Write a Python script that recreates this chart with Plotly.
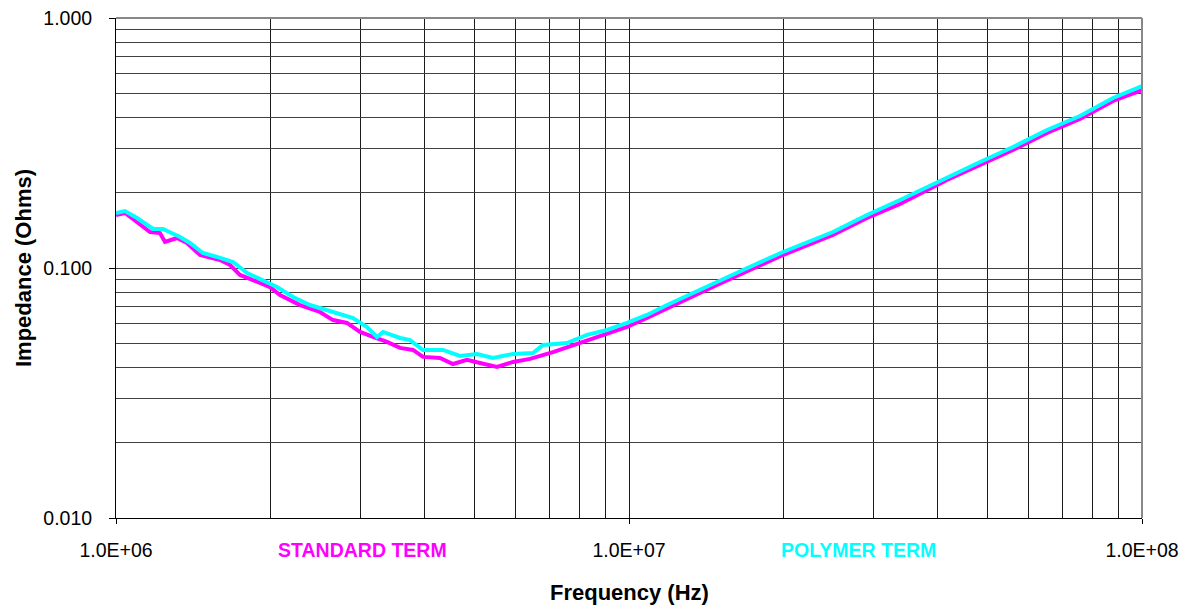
import plotly.graph_objects as go

# Frequency (Hz) and impedance (Ohms)
std_freq = [1.000e6, 1.041e6, 1.079e6, 1.165e6, 1.218e6, 1.246e6, 1.315e6, 1.375e6, 1.458e6,
            1.525e6, 1.595e6, 1.668e6, 1.745e6, 1.909e6, 1.996e6, 2.088e6, 2.284e6, 2.498e6,
            2.649e6, 2.820e6, 2.990e6, 3.170e6, 3.375e6, 3.578e6, 3.793e6, 3.967e6, 4.281e6,
            4.538e6, 4.833e6, 5.123e6, 5.530e6, 5.942e6, 6.412e6, 7.109e6, 8.024e6, 8.780e6,
            9.911e6, 1.084e7, 1.186e7, 1.274e7, 1.484e7, 1.668e7, 1.996e7, 2.498e7, 2.911e7,
            3.375e7, 4.168e7, 4.833e7, 5.605e7, 6.529e7, 7.569e7, 8.780e7, 1.000e8]
std_imp = [0.1629, 0.1660, 0.1570, 0.1393, 0.1380, 0.1271, 0.1318, 0.1259, 0.1127,
           0.1096, 0.1076, 0.1028, 0.0938, 0.0871, 0.0839, 0.0780, 0.0711, 0.0667,
           0.0619, 0.0603, 0.0555, 0.0530, 0.0506, 0.0479, 0.0470, 0.0441, 0.0437,
           0.0413, 0.0429, 0.0417, 0.0402, 0.0421, 0.0433, 0.0461, 0.0501, 0.0530,
           0.0581, 0.0631, 0.0692, 0.0738, 0.0855, 0.0955, 0.1127, 0.1355, 0.1585,
           0.1803, 0.2249, 0.2582, 0.2965, 0.3467, 0.3945, 0.4656, 0.5152]

poly_freq = [1.000e6, 1.041e6, 1.099e6, 1.181e6, 1.235e6, 1.333e6, 1.394e6, 1.477e6, 1.574e6,
             1.691e6, 1.801e6, 1.935e6, 2.060e6, 2.213e6, 2.388e6, 2.649e6, 2.897e6, 3.085e6,
             3.227e6, 3.315e6, 3.578e6, 3.742e6, 3.967e6, 4.339e6, 4.683e6, 5.055e6, 5.431e6,
             5.942e6, 6.499e6, 6.797e6, 7.569e6, 8.280e6, 9.060e6, 9.911e6, 1.084e7, 1.186e7,
             1.274e7, 1.484e7, 1.668e7, 1.996e7, 2.498e7, 2.911e7, 3.375e7, 4.168e7, 4.833e7,
             5.605e7, 6.529e7, 7.569e7, 8.780e7, 1.000e8]
poly_imp = [0.1660, 0.1690, 0.1585, 0.1432, 0.1432, 0.1330, 0.1259, 0.1148, 0.1107,
            0.1057, 0.0955, 0.0895, 0.0839, 0.0766, 0.0711, 0.0667, 0.0631, 0.0581,
            0.0530, 0.0555, 0.0525, 0.0515, 0.0470, 0.0470, 0.0445, 0.0453, 0.0437,
            0.0453, 0.0457, 0.0492, 0.0501, 0.0540, 0.0565, 0.0603, 0.0649, 0.0711,
            0.0759, 0.0879, 0.0982, 0.1159, 0.1393, 0.1629, 0.1871, 0.2312, 0.2655,
            0.3048, 0.3565, 0.4055, 0.4786, 0.5346]

x_major = [1e6, 1e7, 1e8]
x_labels = ["1.0E+06", "1.0E+07", "1.0E+08"]
y_major = [0.01, 0.1, 1.0]
y_labels = ["0.010", "0.100", "1.000"]
x_minor = [m * d for d in (1e6, 1e7) for m in range(2, 10)]
y_minor = [m * d for d in (0.01, 0.1) for m in range(2, 10)]

FONT = "Liberation Sans, Arial, sans-serif"

fig = go.Figure()
fig.add_trace(go.Scatter(x=std_freq, y=std_imp, mode="lines", name="STANDARD TERM",
                         line=dict(color="#FF00FF", width=4)))
fig.add_trace(go.Scatter(x=poly_freq, y=poly_imp, mode="lines", name="POLYMER TERM",
                         line=dict(color="#00FFFF", width=4)))

# the page body adds an 8px offset, so the figure is 8px smaller on each side
fig.update_layout(
    width=1183, height=599,
    margin=dict(l=108, r=49, t=10, b=89, autoexpand=False),
    paper_bgcolor="white", plot_bgcolor="white",
    showlegend=False,
    font=dict(family=FONT, color="black", size=19),
    xaxis=dict(type="log", range=[6, 8], tickmode="array", tickvals=x_major, ticktext=x_labels,
               automargin=False, ticklabeloverflow="allow",
               showgrid=True, gridcolor="#1a1a1a", gridwidth=1,
               showline=True, linecolor="black", linewidth=1,
               ticks="outside", ticklen=5, tickcolor="black", ticklabelstandoff=10,
               tickfont=dict(size=19.5),
               minor=dict(tickmode="array", tickvals=x_minor, showgrid=True,
                          gridcolor="#1a1a1a", gridwidth=1, ticks=""),
               zeroline=False),
    yaxis=dict(type="log", range=[-2, 0], tickmode="array", tickvals=y_major, ticktext=y_labels,
               automargin=False, ticklabeloverflow="allow",
               showgrid=True, gridcolor="#404040", gridwidth=1,
               showline=True, linecolor="black", linewidth=1,
               ticks="outside", ticklen=6, tickcolor="black", ticklabelstandoff=13,
               tickfont=dict(size=19.5),
               minor=dict(tickmode="array", tickvals=y_minor, showgrid=True,
                          gridcolor="#404040", gridwidth=1, ticks=""),
               zeroline=False),
    shapes=[
        dict(type="line", xref="paper", yref="paper", x0=1, x1=1, y0=0, y1=1,
             line=dict(color="#888888", width=2)),
        dict(type="line", xref="paper", yref="paper", x0=0, x1=1, y0=1, y1=1,
             line=dict(color="#888888", width=2)),
    ],
    annotations=[
        dict(text="<b>STANDARD TERM</b>", xref="paper", yref="paper", x=0.2398, y=-0.064,
             xanchor="center", yanchor="middle",
             showarrow=False, font=dict(size=19.5, color="#FF00FF", family=FONT)),
        dict(text="<b>POLYMER TERM</b>", xref="paper", yref="paper", x=0.7232, y=-0.064,
             xanchor="center", yanchor="middle",
             showarrow=False, font=dict(size=19.5, color="#00FFFF", family=FONT)),
        dict(text="<b>Frequency (Hz)</b>", xref="paper", yref="paper", x=0.5, y=-0.148,
             xanchor="center", yanchor="middle",
             showarrow=False, font=dict(size=22, color="black", family=FONT)),
        dict(text="<b>Impedance (Ohms)</b>", xref="paper", yref="paper", x=-0.0906, y=0.5,
             xanchor="center", yanchor="middle",
             textangle=-90, showarrow=False, font=dict(size=22, color="black", family=FONT)),
    ],
)

fig.write_html("out.html")
